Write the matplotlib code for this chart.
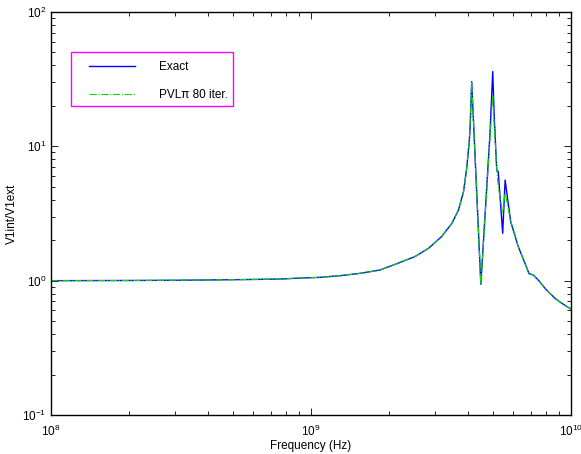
import numpy as np
import matplotlib
matplotlib.use("Agg")
import matplotlib.pyplot as plt
from matplotlib.patches import Rectangle
from matplotlib.ticker import LogLocator, NullFormatter

plt.rcParams['font.family'] = ['Liberation Sans', 'DejaVu Sans']
plt.rcParams['mathtext.default'] = 'regular'

# Exact response
freq_exact = [1e8, 2e8, 3e8, 4e8, 5e8, 6e8, 7.6e8, 9e8,
              1.08e9, 1.3e9, 1.54e9, 1.84e9, 2.1e9, 2.51e9, 2.83e9,
              3.18e9, 3.48e9, 3.69e9, 3.86e9, 3.97e9, 4.06e9, 4.09e9,
              4.15e9, 4.5e9, 4.88e9, 5.0e9, 5.06e9, 5.18e9, 5.25e9,
              5.46e9, 5.58e9, 5.86e9, 6.27e9, 6.65e9, 6.89e9, 7.16e9,
              7.49e9, 7.94e9, 8.68e9, 9.34e9, 9.9e9, 1e10]
v_exact = [1.0, 1.003, 1.007, 1.012, 1.017, 1.021, 1.028, 1.045,
           1.058, 1.09, 1.133, 1.20, 1.32, 1.51, 1.74,
           2.13, 2.67, 3.35, 4.6, 6.86, 10.8, 13.6,
           30.3, 0.94, 12.5, 36.0, 17.6, 6.66, 6.48,
           2.25, 5.61, 2.75, 1.79, 1.35, 1.13, 1.10,
           1.01, 0.877, 0.738, 0.667, 0.622, 0.615]

# PVL pi, 80 iterations
freq_pvl = freq_exact
v_pvl = [1.0, 1.003, 1.007, 1.012, 1.017, 1.021, 1.028, 1.045,
         1.058, 1.09, 1.133, 1.20, 1.32, 1.51, 1.74,
         2.13, 2.67, 3.35, 4.6, 6.86, 10.8, 13.6,
         30.3, 0.94, 11.5, 24.0, 15.0, 6.8, 5.0,
         3.2, 4.5, 2.8, 1.79, 1.35, 1.13, 1.10,
         1.01, 0.877, 0.738, 0.667, 0.622, 0.615]

fig = plt.figure(figsize=(5.81, 4.54), dpi=100)
ax = fig.add_axes([0.0878, 0.0859, 0.8950, 0.8877])

ax.loglog(freq_exact, v_exact, color='#0000ff', lw=1.0, label='Exact')
ax.loglog(freq_pvl, v_pvl, color='#00dd00', lw=0.8, ls='-.',
          label='PVL\u03c0 80 iter.')

ax.set_xlim(1e8, 1e10)
ax.set_ylim(1e-1, 1e2)
ax.set_xlabel('Frequency (Hz)', fontsize=8.5, labelpad=1)
ax.set_ylabel('V1int/V1ext', fontsize=8.5, labelpad=3)

for axis in (ax.xaxis, ax.yaxis):
    axis.set_major_locator(LogLocator(base=10, numticks=10))
    axis.set_minor_locator(LogLocator(base=10, subs=np.arange(2, 10), numticks=20))
    axis.set_minor_formatter(NullFormatter())
ax.tick_params(which='both', direction='in', top=True, right=True,
               labelsize=8.5, width=0.6)
ax.tick_params(which='major', length=5)
ax.tick_params(which='minor', length=3)
ax.tick_params(axis='x', pad=6)
for s in ax.spines.values():
    s.set_linewidth(1.0)

# legend entries without frame, magenta box drawn separately
leg = ax.legend(loc='upper left', bbox_to_anchor=(0.073, 0.879), fontsize=8.5,
                frameon=False, borderpad=0, labelspacing=1.4,
                handlelength=3.9, handletextpad=2.0, borderaxespad=0)
ax.add_patch(Rectangle((0.0385, 0.767), 0.3115, 0.134, transform=ax.transAxes,
                       fill=False, edgecolor='#ff00ff', lw=1.0, zorder=5))

fig.savefig('out.png', dpi=100)
